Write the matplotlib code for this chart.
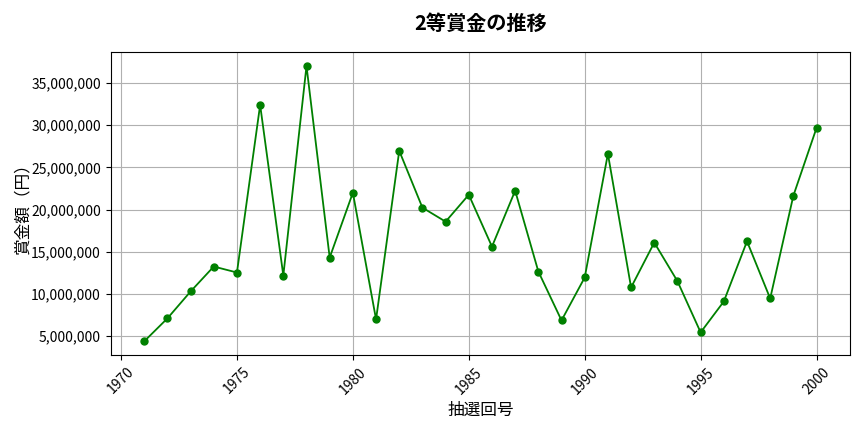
import matplotlib
matplotlib.use("Agg")
import matplotlib.pyplot as plt
from matplotlib.ticker import FuncFormatter

plt.rcParams["font.family"] = ["Noto Sans CJK JP", "DejaVu Sans"]

years = list(range(1971, 2001))
prize = [
    4_370_000, 7_090_000, 10_280_000, 13_240_000, 12_530_000,
    32_400_000, 12_170_000, 37_010_000, 14_300_000, 21_990_000,
    6_970_000, 26_960_000, 20_220_000, 18_560_000, 21_750_000,
    15_600_000, 22_230_000, 12_650_000, 6_850_000, 11_940_000,
    26_600_000, 10_760_000, 16_080_000, 11_500_000, 5_430_000,
    9_100_000, 16_230_000, 9_450_000, 21_640_000, 29_680_000,
]

fig, ax = plt.subplots(figsize=(8.64, 4.32), dpi=100)
ax.plot(years, prize, color="green", marker="o", markersize=5, linewidth=1.3)

ax.set_title("2等賞金の推移", fontsize=14.5, fontweight="bold", pad=16)
ax.set_xlabel("抽選回号", fontsize=12, labelpad=4)
ax.set_ylabel("賞金額（円）", fontsize=12, labelpad=0)
ax.yaxis.set_major_formatter(FuncFormatter(lambda v, p: f"{int(v):,}"))
ax.tick_params(axis="x", rotation=45, labelsize=10)
ax.tick_params(axis="y", labelsize=10)
ax.grid(True, color="#b0b0b0", linewidth=0.8)

plt.subplots_adjust(left=0.128, right=0.984, bottom=0.178, top=0.879)
plt.savefig("out.png", dpi=100)
plt.close()
